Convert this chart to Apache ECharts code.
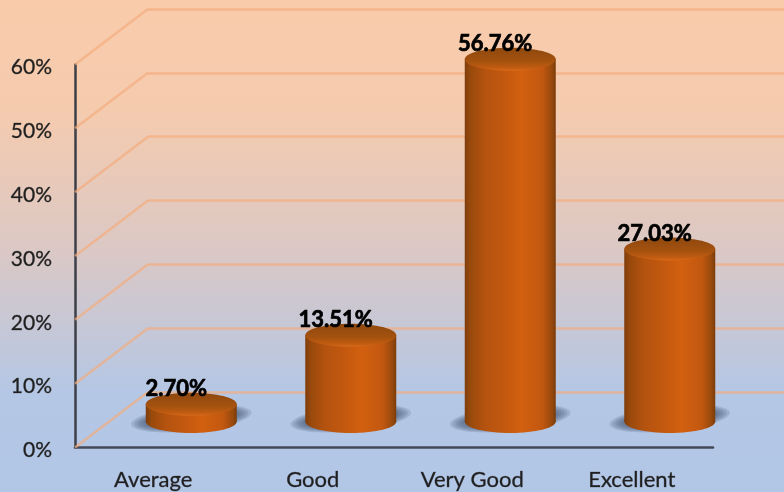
<!DOCTYPE html>
<html>
<head>
<meta charset="utf-8">
<style>html,body{margin:0;padding:0;background:#fff}#c{width:784px;height:492px}</style>
<script src="https://cdn.jsdelivr.net/npm/echarts@6/dist/echarts.min.js"></script>
</head>
<body>
<div id="c"></div>
<script>
var categories = ['Average', 'Good', 'Very Good', 'Excellent'];
var percentValues = [2.70, 13.51, 56.76, 27.03];
var tickValues = [0, 10, 20, 30, 40, 50, 60];

var DEPTH_X = 73, DEPTH_Y = 55.5;
var BAR_DX = 36.5, BAR_DY = 26, RX = 45.5, RY = 11.5;
var FONT = 'Lato, "Open Sans", sans-serif';
var SHADOW_LAYERS = [12, 9, 6, 3, 0];

var chart = echarts.init(document.getElementById('c'), null, {renderer: 'canvas'});

function bodyFill() {
  return new echarts.graphic.LinearGradient(0, 0, 1, 0, [
    {offset: 0, color: '#7f3d0c'},
    {offset: 0.06, color: '#98490c'},
    {offset: 0.22, color: '#b4530f'},
    {offset: 0.42, color: '#c2580f'},
    {offset: 0.62, color: '#d26010'},
    {offset: 0.85, color: '#c25810'},
    {offset: 0.96, color: '#96490d'},
    {offset: 1, color: '#7a3b0b'}
  ]);
}
function topFill() {
  return new echarts.graphic.LinearGradient(0, 0, 0, 1, [
    {offset: 0, color: '#8e480e'},
    {offset: 0.6, color: '#a5520f'},
    {offset: 0.88, color: '#c25c12'},
    {offset: 1, color: '#d86a18'}
  ]);
}

var option = {
  animation: false,
  backgroundColor: new echarts.graphic.LinearGradient(0, 0, 0, 1, [
    {offset: 0, color: '#f9cbab'},
    {offset: 0.22, color: '#f5cbae'},
    {offset: 0.5, color: '#dcc8c4'},
    {offset: 0.8, color: '#b4c7e5'},
    {offset: 1, color: '#b2c6e6'}
  ]),
  grid: [
    {left: 75, right: 71, top: 64.5, height: 383, containLabel: false},
    {left: 75 + DEPTH_X, right: 0, top: 64.5 - DEPTH_Y, height: 383, containLabel: false}
  ],
  xAxis: [
    {
      type: 'category', gridIndex: 0, data: categories,
      axisLine: {show: true, lineStyle: {color: '#454a58', width: 2.5}},
      axisTick: {show: false},
      axisLabel: {color: '#1f1f1f', fontFamily: FONT, fontSize: 22, margin: 21, padding: [0, 3, 0, 0], textBorderColor: 'rgba(40,40,40,0.6)', textBorderWidth: 0.5}
    },
    {type: 'category', gridIndex: 1, data: categories, show: false}
  ],
  yAxis: [
    {
      type: 'value', gridIndex: 0, min: 0, max: 60, interval: 10,
      axisLine: {show: true, lineStyle: {color: '#3c3f48', width: 2.5}},
      axisTick: {show: false},
      splitLine: {show: false},
      axisLabel: {color: '#1f1f1f', fontFamily: FONT, fontSize: 21, margin: 23, verticalAlign: 'top', lineHeight: 6, formatter: '{value}%', textBorderColor: 'rgba(40,40,40,0.6)', textBorderWidth: 0.5}
    },
    {
      type: 'value', gridIndex: 1, min: 0, max: 60, interval: 10,
      axisLine: {show: false}, axisTick: {show: false}, axisLabel: {show: false},
      splitLine: {show: true, lineStyle: {color: 'rgba(244,172,125,0.7)', width: 2.5}}
    }
  ],
  series: [
    {
      // diagonal lines on the left wall
      type: 'custom', xAxisIndex: 0, yAxisIndex: 0, z: 1, silent: true,
      coordinateSystem: 'cartesian2d',
      clip: false,
      data: tickValues.map(function (t) { return [0, t]; }),
      encode: {x: 0, y: 1},
      renderItem: function (params, api) {
        var y = api.coord([0, api.value(1)])[1];
        var x = params.coordSys.x;
        return {
          type: 'line',
          shape: {x1: x, y1: y, x2: x + DEPTH_X, y2: y - DEPTH_Y},
          style: {stroke: 'rgba(244,172,125,0.7)', lineWidth: 2.5}
        };
      }
    },
    {
      // cylinders
      type: 'custom', xAxisIndex: 0, yAxisIndex: 0, z: 5, silent: true,
      clip: false,
      data: percentValues.map(function (v, i) { return [i, v]; }),
      encode: {x: 0, y: 1},
      renderItem: function (params, api) {
        var v = api.value(1);
        var top = api.coord([api.value(0), v]);
        var cx = top[0] + BAR_DX;
        var ty = top[1] - BAR_DY;
        var by = api.coord([api.value(0), 0])[1] - BAR_DY;
        var shadows = SHADOW_LAYERS.map(function (grow) {
          return {
            type: 'ellipse',
            originX: cx, originY: by - 3,
            rotation: 0.1,
            shape: {cx: cx, cy: by - 3, rx: RX + 3 + grow, ry: RY - 3 + grow * 0.35},
            style: {fill: 'rgba(60,75,105,0.17)'}
          };
        });
        return {
          type: 'group',
          children: shadows.concat([
            {
              type: 'ellipse',
              shape: {cx: cx, cy: by, rx: RX, ry: RY},
              style: {fill: bodyFill()}
            },
            {
              type: 'rect',
              shape: {x: cx - RX, y: ty, width: RX * 2, height: by - ty},
              style: {fill: bodyFill()}
            },
            {
              type: 'ellipse',
              shape: {cx: cx, cy: ty, rx: RX, ry: RY},
              style: {fill: topFill()}
            },
            {
              type: 'text',
              style: {
                text: v.toFixed(2) + '%',
                x: cx - 15, y: ty - 15,
                align: 'center', verticalAlign: 'middle',
                fill: '#000', font: 'bold 22px ' + FONT,
                stroke: '#000', lineWidth: 0.7
              }
            }
          ])
        };
      }
    }
  ]
};
chart.setOption(option);
</script>
</body>
</html>
